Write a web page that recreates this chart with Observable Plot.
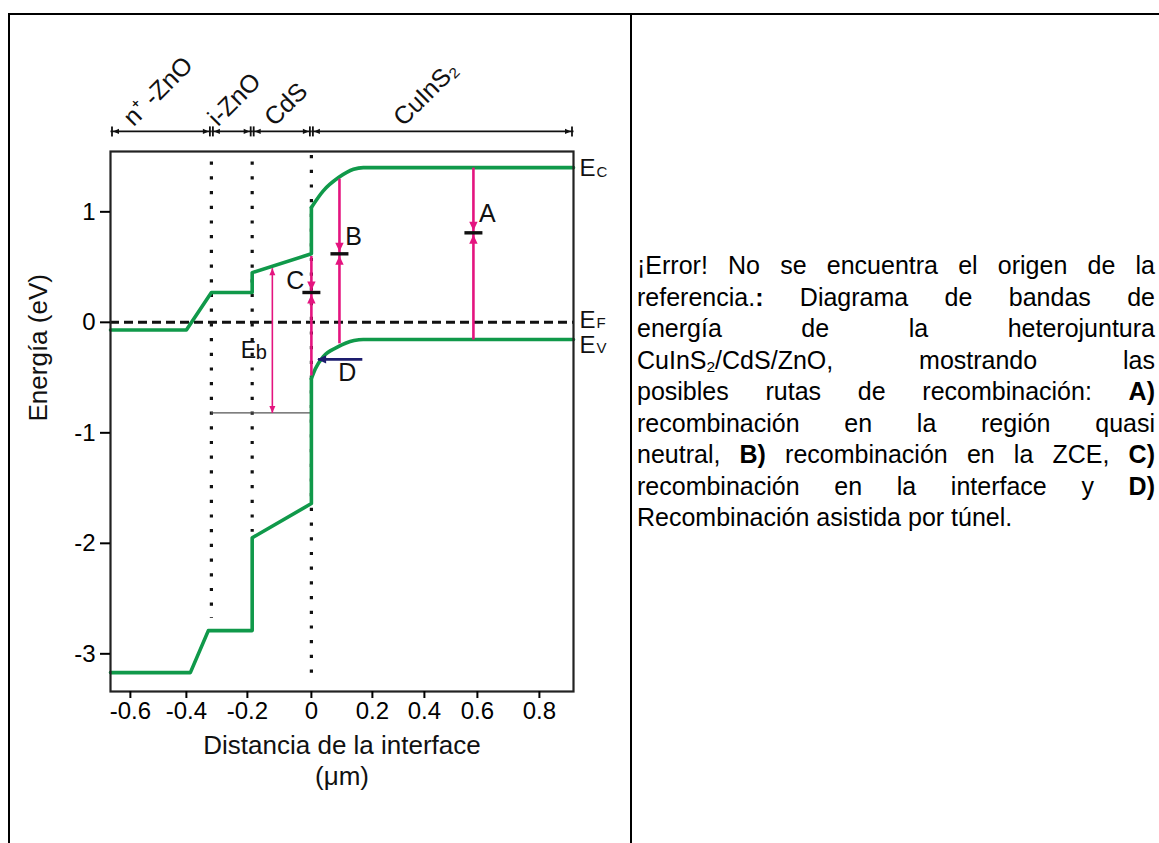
<!DOCTYPE html>
<html><head><meta charset="utf-8">
<script src="https://cdn.jsdelivr.net/npm/d3@7"></script>
<script src="https://cdn.jsdelivr.net/npm/@observablehq/plot@0.6"></script>
<style>
html,body{margin:0;padding:0;background:#fff;}
#page{position:relative;width:1159px;height:843px;overflow:hidden;font-family:Arial,"Liberation Sans",sans-serif;color:#000;}
.bl{position:absolute;background:#000;}
#chart{position:absolute;left:0;top:0;}
#caption{position:absolute;left:637px;top:250px;width:518px;font-size:25px;line-height:31.5px;}
#caption div{text-align:justify;text-align-last:justify;}
#caption div.last{text-align-last:left;}
#caption sub{font-size:0.62em;line-height:0;vertical-align:-0.2em;}
</style></head>
<body>
<div id="page">
  <div class="bl" style="left:8px;top:13px;width:1151px;height:2px"></div>
  <div class="bl" style="left:8px;top:13px;width:2px;height:830px"></div>
  <div class="bl" style="left:630px;top:13px;width:1.5px;height:830px"></div>
  <div id="chart"></div>
  <div id="caption"></div>
</div>
<script>
// ---- data ----
const xTicks = [-0.6, -0.4, -0.2, 0, 0.2, 0.4, 0.6, 0.8];
const yTicks = [-3, -2, -1, 0, 1];
const xLeft = -0.671, xRight = 0.91;        // frame extent (µm)
const yBottom = -3.341, yTop = 1.546;        // frame extent (eV)

// conduction band (Ec)
const ecStepX  = [-0.671, -0.40, -0.318, -0.185, -0.185, 0, 0];
const ecStepY  = [-0.07, -0.07, 0.27, 0.27, 0.45, 0.62, 1.04];
const ecCurveX = [0, 0.039, 0.089, 0.138, 0.17, 0.91];
const ecCurveY = [1.04, 1.19, 1.31, 1.385, 1.40, 1.40];
// valence band (Ev)
const evStepX  = [-0.671, -0.387, -0.328, -0.185, -0.185, 0, 0];
const evStepY  = [-3.17, -3.17, -2.79, -2.79, -1.95, -1.64, -0.51];
const evCurveX = [0, 0.013, 0.039, 0.085, 0.14, 0.17, 0.91];
const evCurveY = [-0.51, -0.42, -0.31, -0.225, -0.165, -0.155, -0.155];

const fermiLevel = 0;
// layer interfaces (dotted)
const dotX      = [-0.318, -0.185, 0];
const dotTop    = [1.45, 1.45, 1.51];
const dotBottom = [-2.68, -1.90, -3.27];

// recombination routes A, B, C
const routeName   = ["A", "B", "C"];
const routeX      = [0.585, 0.092, 0];
const routeTop    = [1.40, 1.30, 0.60];
const routeTrap   = [0.81, 0.62, 0.27];
const routeBottom = [-0.155, -0.19, -0.48];
// route D (tunnel)
const tunnelY = -0.335, tunnelFrom = 0.167, tunnelTo = 0.022;
// barrier Eb
const ebX = -0.122, ebTop = 0.49, ebBottom = -0.82;
const ebLineFrom = -0.318, ebLineTo = 0;

// letter labels
const letterName = ["A", "B", "C", "D"];
const letterX    = [0.632, 0.138, -0.05, 0.118];
const letterY    = [0.98, 0.77, 0.37, -0.46];
const ebLabelX = -0.222, ebLabelY = -0.255;

// band labels at right
const bandSub = ["C", "F", "V"];
const bandY   = [1.39, 0.02, -0.21];

// layers on top
const layerName  = ["n\u207A -ZnO", "i-ZnO", "CdS", "CuInS\u2082"];
const layerBound = [-0.671, -0.318, -0.185, 0, 0.91];
const layerLabelX = [-0.589, -0.296, -0.115, 0.32];
const bracketY = 1.728, layerLabelY = 1.765;

const captionLines = [
  '¡Error! No se encuentra el origen de la',
  'referencia.<b>:</b> Diagrama de bandas de',
  'energía de la heterojuntura',
  'CuInS<sub>2</sub>/CdS/ZnO, mostrando las',
  'posibles rutas de recombinación: <b>A)</b>',
  'recombinación en la región quasi',
  'neutral, <b>B)</b> recombinación en la ZCE, <b>C)</b>',
  'recombinación en la interface y <b>D)</b>',
  'Recombinación asistida por túnel.'
];

// ---- drawing ----
const green = "#10994a", pink = "#e4147f", navy = "#1d1d6e", ink = "#111";
// the hand-drawn axis has unevenly spaced ticks: a piecewise-linear warp calibrated on them
const warp = d3.scaleLinear().domain(xTicks).range([130, 186, 247, 311, 372, 424, 477, 539]);
const zip = (xs, ys) => xs.map((x, i) => ({x, y: ys[i]}));
const poly = pts => ({draw(c){ c.moveTo(...pts[0]); for (const p of pts.slice(1)) c.lineTo(...p); c.closePath(); }});
const hbar = poly([[-9,-1.7],[9,-1.7],[9,1.7],[-9,1.7]]);
const vbar = poly([[-0.9,-5],[0.9,-5],[0.9,5],[-0.9,5]]);
// filled arrowheads, tip at the anchor point
const head = (w, l) => ({
  down: poly([[0,0],[-w,-l],[w,-l]]), up: poly([[0,0],[-w,l],[w,l]]),
  left: poly([[0,0],[l,-w],[l,w]]), right: poly([[0,0],[-l,-w],[-l,w]])
});
const big = head(4.2, 9), small = head(3, 7), tiny = head(2.6, 6);

const routes = routeName.map((n, i) => ({n, x: routeX[i], top: routeTop[i], trap: routeTrap[i], bottom: routeBottom[i]}));
const dots = dotX.map((x, i) => ({x, y1: dotTop[i], y2: dotBottom[i]}));
const segs = layerBound.slice(0, -1).map((a, i) => ({a, b: layerBound[i + 1]}));
const letters = letterName.map((t, i) => ({t, x: letterX[i], y: letterY[i]}));
const bands = bandSub.map((s, i) => ({s, y: bandY[i]}));
const layers = layerName.map((t, i) => ({t, x: layerLabelX[i]}));

const chart = Plot.plot({
  width: 620, height: 800,
  marginLeft: 110, marginRight: 47, marginTop: 151, marginBottom: 109,
  x: {transform: warp, domain: [warp(xLeft), warp(xRight)]},
  y: {domain: [yBottom, yTop]},
  style: {fontFamily: 'Arial, "Liberation Sans", sans-serif', fontSize: "24px", color: "#000", background: "transparent", overflow: "visible"},
  marks: [
    Plot.ruleX(dots, {x: "x", y1: "y1", y2: "y2", stroke: ink, strokeWidth: 3.2, strokeDasharray: "3.2 11.5"}),
    Plot.ruleY([fermiLevel], {x1: xLeft, x2: xRight, stroke: ink, strokeWidth: 3, strokeDasharray: "9 5"}),
    Plot.ruleY([ebBottom], {x1: ebLineFrom, x2: ebLineTo, stroke: "#555", strokeWidth: 1.3}),
    Plot.line(zip(ecStepX, ecStepY), {x: "x", y: "y", stroke: green, strokeWidth: 3.6}),
    Plot.line(zip(ecCurveX, ecCurveY), {x: "x", y: "y", stroke: green, strokeWidth: 3.6, curve: "monotone-x"}),
    Plot.line(zip(evStepX, evStepY), {x: "x", y: "y", stroke: green, strokeWidth: 3.6}),
    Plot.line(zip(evCurveX, evCurveY), {x: "x", y: "y", stroke: green, strokeWidth: 3.6, curve: "monotone-x"}),
    // recombination routes A, B, C
    Plot.link(routes, {x1: "x", y1: "top", x2: "x", y2: "bottom", stroke: pink, strokeWidth: 2.6}),
    Plot.dot(routes, {x: "x", y: "trap", symbol: big.down, fill: pink, stroke: null, dy: -2}),
    Plot.dot(routes, {x: "x", y: "trap", symbol: big.up, fill: pink, stroke: null, dy: 2}),
    Plot.dot(routes, {x: "x", y: "trap", symbol: hbar, fill: ink, stroke: null}),
    // Eb double arrow
    Plot.link([ebX], {x1: d => d, y1: ebTop, x2: d => d, y2: ebBottom, stroke: pink, strokeWidth: 1.6}),
    Plot.dot([ebX], {x: d => d, y: ebTop, symbol: small.up, fill: pink, stroke: null}),
    Plot.dot([ebX], {x: d => d, y: ebBottom, symbol: small.down, fill: pink, stroke: null}),
    // tunnel arrow D
    Plot.link([tunnelY], {x1: tunnelFrom, y1: d => d, x2: tunnelTo, y2: d => d, stroke: navy, strokeWidth: 2.8}),
    Plot.dot([tunnelY], {x: tunnelTo, y: d => d, symbol: big.left, fill: navy, stroke: null, dx: -1}),
    // letters
    Plot.text(letters, {x: "x", y: "y", text: "t", fontSize: 25, fill: "#111"}),
    Plot.text(["E"], {x: ebLabelX, y: ebLabelY, textAnchor: "start", fontSize: 23, fill: "#111"}),
    Plot.text(["b"], {x: ebLabelX, y: ebLabelY, textAnchor: "start", dx: 15, dy: 2, fontSize: 20, fill: "#111"}),
    // band labels on the right
    Plot.text(bands, {x: xRight, y: "y", text: () => "E", textAnchor: "start", dx: 6, fontSize: 24, fill: "#111"}),
    Plot.text(bands, {x: xRight, y: "y", text: "s", textAnchor: "start", dx: 23, dy: 3, fontSize: 15, fill: "#111"}),
    // layer bracket
    Plot.link(segs, {x1: "a", y1: bracketY, x2: "b", y2: bracketY, stroke: ink, strokeWidth: 1.8, insetLeft: 2, insetRight: 2}),
    Plot.dot(layerBound.slice(0, -1), {x: d => d, y: bracketY, symbol: tiny.left, fill: ink, stroke: null, dx: 2.5}),
    Plot.dot(layerBound.slice(1), {x: d => d, y: bracketY, symbol: tiny.right, fill: ink, stroke: null, dx: -2.5}),
    Plot.dot(layerBound.slice(0, -1), {x: d => d, y: bracketY, symbol: vbar, fill: ink, stroke: null, dx: 1.5}),
    Plot.dot(layerBound.slice(1), {x: d => d, y: bracketY, symbol: vbar, fill: ink, stroke: null, dx: -1.5}),
    Plot.text(layers, {x: "x", y: layerLabelY, text: "t", rotate: -45, textAnchor: "start", lineAnchor: "bottom", fontSize: 25, fill: "#111"}),
    // axes
    Plot.frame({stroke: "#222", strokeWidth: 2.2}),
    Plot.axisX(xTicks, {anchor: "bottom", tickSize: 7, tickPadding: 3, strokeWidth: 2, tickFormat: d => String(d), fontSize: 24, label: null}),
    Plot.axisY(yTicks, {anchor: "left", tickSize: 10, tickPadding: 5, strokeWidth: 2, tickFormat: d => String(d), fontSize: 24, label: null}),
    Plot.text(["Energía (eV)"], {frameAnchor: "left", dx: -72, rotate: -90, fontSize: 26, fill: "#111"}),
    Plot.text(["Distancia de la interface\n(μm)"], {frameAnchor: "bottom", lineAnchor: "top", dy: 40, lineHeight: 1.2, fontSize: 26, fill: "#111"})
  ]
});
document.getElementById("chart").appendChild(chart);

const cap = document.getElementById("caption");
captionLines.forEach((l, i) => {
  const d = document.createElement("div");
  d.innerHTML = l;
  if (i === captionLines.length - 1) d.className = "last";
  cap.appendChild(d);
});
</script>
</body></html>
